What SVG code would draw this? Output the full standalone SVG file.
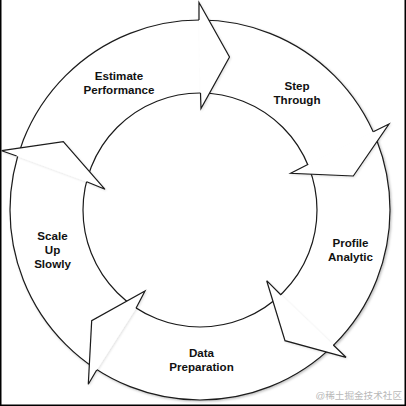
<svg xmlns="http://www.w3.org/2000/svg" width="406" height="406" viewBox="0 0 406 406">
  <style>
    .ln { fill: #fff; stroke: #1a1a1a; stroke-width: 1.2; stroke-linejoin: miter; }
    .hf { fill: #fff; stroke: none; }
    .hs { fill: none; stroke: #1a1a1a; stroke-width: 1.2; stroke-linejoin: miter; }
    .lbl { font-family: "Liberation Sans", Arial, sans-serif; font-weight: bold; font-size: 11.6px; fill: #111; text-anchor: middle; }
    .wm { font-family: "Liberation Sans", "Noto Sans CJK SC", sans-serif; font-size: 9.6px; fill: #b8b8b8; text-anchor: end; }
  </style>
  <defs>
    <filter id="sh" x="-10%" y="-10%" width="120%" height="120%">
      <feDropShadow dx="1.2" dy="1.2" stdDeviation="0.9" flood-color="#000" flood-opacity="0.25"/>
    </filter>
    <filter id="sh2" x="-10%" y="-10%" width="120%" height="120%">
      <feDropShadow dx="1" dy="1" stdDeviation="0.8" flood-color="#000" flood-opacity="0.12"/>
    </filter>
  </defs>
  <rect x="0" y="0" width="406" height="406" fill="#fff"/>
  <path d="M0.75 0 V405.25 H405.25 V0" fill="none" stroke="#000" stroke-width="1.5"/>

  <g id="ring" filter="url(#sh)">
    <circle class="ln" cx="200" cy="210" r="190"/>
    <circle class="ln" cx="200" cy="210" r="117"/>
  </g>

  <g id="connectors" filter="url(#sh2)">
    <g id="arrow-estimate-to-step">
      <path class="hf" d="M199 20 L199 2.5 L229.5 57 L201 108.5 L200.5 93 Z"/>
      <path class="hs" d="M199 20 L199 2.5 L229.5 57 L201 108.5 L200.5 93"/>
    </g>
    <g id="arrow-step-to-profile">
      <path class="hf" d="M373.3 131.7 L389 124 L353.3 176 L290.7 173.3 L308.3 164.3 Z"/>
      <path class="hs" d="M373.3 131.7 L389 124 L353.3 176 L290.7 173.3 L308.3 164.3"/>
    </g>
    <g id="arrow-profile-to-data">
      <path class="hf" d="M333.3 345 L346 357.3 L285 340.7 L266.7 280.7 L281 295 Z"/>
      <path class="hs" d="M333.3 345 L346 357.3 L285 340.7 L266.7 280.7 L281 295"/>
    </g>
    <g id="arrow-data-to-scale">
      <path class="hf" d="M96.7 370 L88.3 384.3 L91.7 320.7 L145 291 L136 308.3 Z"/>
      <path class="hs" d="M96.7 370 L88.3 384.3 L91.7 320.7 L145 291 L136 308.3"/>
    </g>
    <g id="arrow-scale-to-estimate">
      <path class="hf" d="M16.7 156 L1.7 150.7 L63.3 141.7 L105 189.3 L86.7 181.7 Z"/>
      <path class="hs" d="M16.7 156 L1.7 150.7 L63.3 141.7 L105 189.3 L86.7 181.7"/>
    </g>
  </g>

  <g id="node-estimate-performance">
    <text class="lbl" x="119" y="80">Estimate</text>
    <text class="lbl" x="119" y="94">Performance</text>
  </g>
  <g id="node-step-through">
    <text class="lbl" x="297" y="90">Step</text>
    <text class="lbl" x="297" y="104">Through</text>
  </g>
  <g id="node-profile-analytic">
    <text class="lbl" x="350.5" y="247">Profile</text>
    <text class="lbl" x="350.5" y="261">Analytic</text>
  </g>
  <g id="node-data-preparation">
    <text class="lbl" x="201.5" y="357">Data</text>
    <text class="lbl" x="201.5" y="371">Preparation</text>
  </g>
  <g id="node-scale-up-slowly">
    <text class="lbl" x="52.5" y="240">Scale</text>
    <text class="lbl" x="52.5" y="254">Up</text>
    <text class="lbl" x="52.5" y="268">Slowly</text>
  </g>

  <text class="wm" x="402" y="399">@稀土掘金技术社区</text>
</svg>
